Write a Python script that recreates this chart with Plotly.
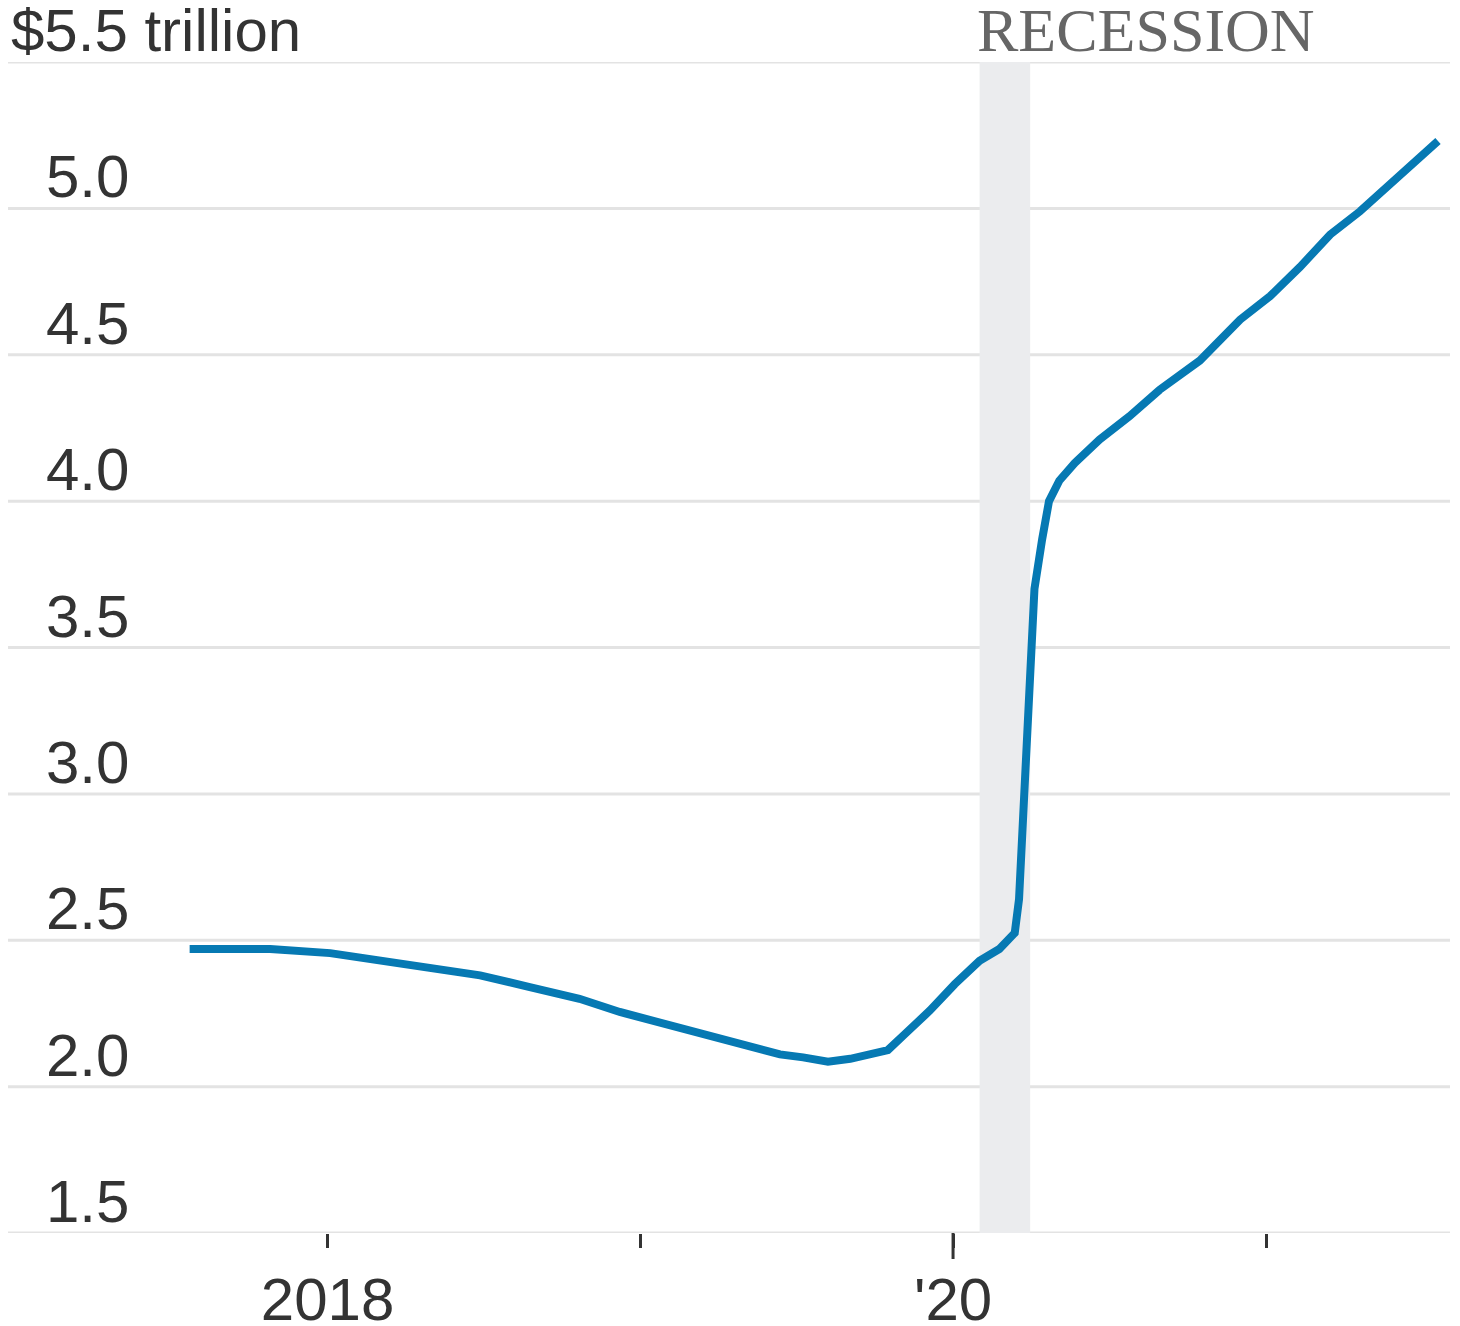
import plotly.graph_objects as go

# Values (trillions of dollars)
dates = ["2017-07-24", "2017-10-26", "2018-01-04", "2018-03-03", "2018-05-01", "2018-06-28",
         "2018-08-25", "2018-10-22", "2018-12-08", "2019-01-24", "2019-03-12", "2019-04-27",
         "2019-06-13", "2019-07-10", "2019-08-08", "2019-09-03", "2019-10-17", "2019-11-06",
         "2019-12-05", "2020-01-03", "2020-02-01", "2020-02-24", "2020-03-13", "2020-03-18",
         "2020-03-24", "2020-03-30", "2020-04-05", "2020-04-14", "2020-04-22", "2020-05-04",
         "2020-05-22", "2020-06-20", "2020-07-25", "2020-08-29", "2020-10-15", "2020-12-01",
         "2021-01-05", "2021-02-09", "2021-03-16", "2021-04-20", "2021-06-06", "2021-07-20"]
values = [2.47, 2.47, 2.456, 2.43, 2.41, 2.38,
          2.34, 2.30, 2.255, 2.22, 2.18, 2.145,
          2.11, 2.10, 2.085, 2.095, 2.125, 2.18,
          2.26, 2.35, 2.43, 2.47, 2.525, 2.64,
          2.98, 3.39, 3.70, 3.87, 4.00, 4.07,
          4.13, 4.21, 4.29, 4.38, 4.48, 4.62,
          4.70, 4.80, 4.91, 4.99, 5.11, 5.23]

y_ticks = [1.5, 2.0, 2.5, 3.0, 3.5, 4.0, 4.5, 5.0]
y_tick_text = ["1.5", "2.0", "2.5", "3.0", "3.5", "4.0", "4.5", "5.0"]
y_top = 5.5
y_top_text = "$5.5 trillion"
x_ticks = ["2018-01-01", "2019-01-01", "2020-01-01", "2021-01-01"]
x_tick_text = ["2018", "", "'20", ""]
recession = ["2020-02-01", "2020-03-31"]

W, H = 1460, 1326
L, R, T, B = 8, 10, 62, 93
plot_w = W - L - R
FONT = "Liberation Sans, Arial, Helvetica"

fig = go.Figure()
fig.add_trace(go.Scatter(x=dates, y=values, mode="lines",
                         line=dict(color="#0679b3", width=8), hoverinfo="skip"))

fig.add_shape(type="rect", xref="x", yref="y", x0=recession[0], x1=recession[1],
              y0=y_ticks[0], y1=y_top, fillcolor="#ebecee", line=dict(width=0), layer="below")

# gridlines
for v in y_ticks + [y_top]:
    fig.add_shape(type="line", xref="paper", yref="y", x0=0, x1=1, y0=v, y1=v,
                  line=dict(color="#e3e3e3", width=3), layer="below")

# longer tick for '20
fig.add_shape(type="line", xref="x", yref="paper", x0=x_ticks[2], x1=x_ticks[2],
              y0=0, y1=-26 / (H - T - B), line=dict(color="#333333", width=3))

label_x = (131 - L) / plot_w
for v, t in zip(y_ticks, y_tick_text):
    fig.add_annotation(x=label_x, xref="paper", y=v, yref="y", text=t, showarrow=False,
                       xanchor="right", yanchor="bottom", yshift=-4,
                       font=dict(family=FONT, size=60, color="#333333"))
fig.add_annotation(x=(9 - L) / plot_w, xref="paper", y=y_top, yref="y", text=y_top_text, showarrow=False,
                   xanchor="left", yanchor="bottom", yshift=-4,
                   font=dict(family=FONT, size=60, color="#333333"))
fig.add_annotation(x=recession[0], xref="x", y=y_top, yref="y", text="RECESSION", showarrow=False,
                   xanchor="left", yanchor="bottom", yshift=-4, xshift=-5,
                   font=dict(family="Liberation Serif, Times New Roman", size=62, color="#666666"))

fig.update_layout(
    width=W, height=H, margin=dict(l=L, r=R, t=T, b=B),
    paper_bgcolor="white", plot_bgcolor="white", showlegend=False,
    xaxis=dict(range=["2016-12-24", "2021-08-03"], tickvals=x_ticks, ticktext=x_tick_text,
               ticks="outside", ticklen=14, tickwidth=3, tickcolor="#333333",
               showgrid=False, zeroline=False, showline=False, automargin=False,
               tickfont=dict(family=FONT, size=60, color="#333333"),
               ticklabelstandoff=0),
    yaxis=dict(range=[y_ticks[0], y_top], showgrid=False, zeroline=False,
               showticklabels=False, showline=False, automargin=False),
)

fig.write_html("out.html")
